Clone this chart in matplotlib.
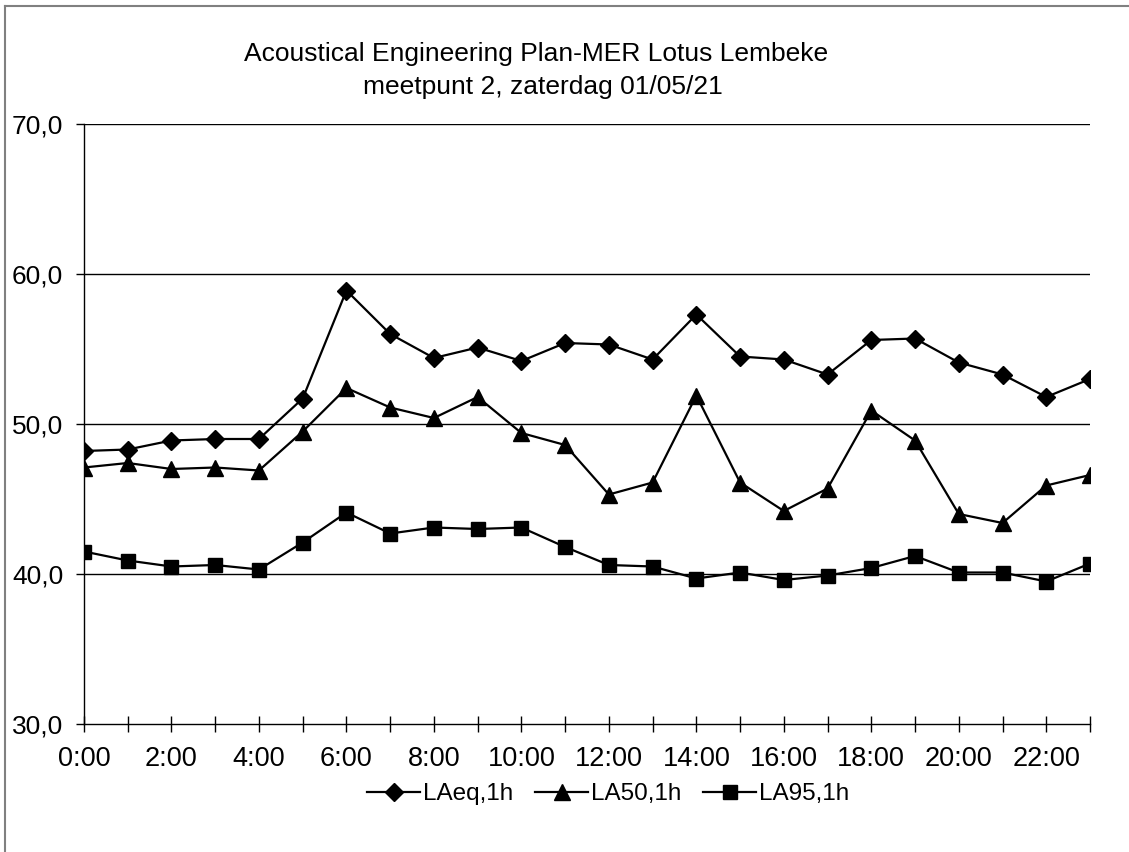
import numpy as np
import matplotlib.pyplot as plt
from matplotlib.lines import Line2D

plt.rcParams['font.family'] = ['Liberation Sans', 'DejaVu Sans']

# hours of the day
hours = list(range(24))
hour_labels = [f"{h}:00" if h % 2 == 0 else "" for h in hours]

# measured levels (dB(A))
laeq = [48.2, 48.3, 48.9, 49.0, 49.0, 51.7, 58.9, 56.0, 54.4, 55.1, 54.2, 55.4,
        55.3, 54.3, 57.3, 54.5, 54.3, 53.3, 55.6, 55.7, 54.1, 53.3, 51.8, 53.0]
la50 = [47.1, 47.4, 47.0, 47.1, 46.9, 49.5, 52.4, 51.1, 50.4, 51.8, 49.4, 48.6,
        45.3, 46.1, 51.9, 46.1, 44.2, 45.7, 50.9, 48.9, 44.0, 43.4, 45.9, 46.6]
la95 = [41.5, 40.9, 40.5, 40.6, 40.3, 42.1, 44.1, 42.7, 43.1, 43.0, 43.1, 41.8,
        40.6, 40.5, 39.7, 40.1, 39.6, 39.9, 40.4, 41.2, 40.1, 40.1, 39.5, 40.7]

W, H = 1129, 852
fig = plt.figure(figsize=(W / 100, H / 100), dpi=100)
ax = fig.add_axes([84 / W, 1 - 724 / H, (1090 - 84) / W, 600 / H])

lw = 1.6
ax.plot(hours, laeq, color='black', lw=lw, marker='D', ms=9, label='LAeq,1h', zorder=3)
ax.plot(hours, la50, color='black', lw=lw, marker='^', ms=11, label='LA50,1h', zorder=3)
ax.plot(hours, la95, color='black', lw=lw, marker='s', ms=10, label='LA95,1h', zorder=3)

ax.set_xlim(0, 23)
ax.set_ylim(30, 70)
ax.set_yticks([30, 40, 50, 60, 70])
ax.set_yticklabels(["30,0", "40,0", "50,0", "60,0", "70,0"], fontsize=19)
ax.set_xticks(hours)
ax.set_xticklabels(hour_labels, fontsize=19.5)
ax.tick_params(axis='x', direction='inout', length=12, width=1, pad=10)
ax.tick_params(axis='y', direction='out', length=6, width=1, pad=9)
for y in [40, 50, 60, 70]:
    ax.axhline(y, color='black', lw=1, zorder=1)
ax.spines['top'].set_visible(False)
ax.spines['right'].set_visible(False)
ax.spines['left'].set_linewidth(1)
ax.spines['bottom'].set_linewidth(1)

fig.text(536 / W, 1 - 54 / H, "Acoustical Engineering Plan-MER Lotus Lembeke",
         ha='center', va='center', fontsize=19)
fig.text(543 / W, 1 - 87 / H, "meetpunt 2, zaterdag 01/05/21",
         ha='center', va='center', fontsize=19)

fig.legend(loc='center', bbox_to_anchor=(608 / W, 1 - 794 / H), ncol=3,
           frameon=False, fontsize=17.5, handlelength=2.2, handletextpad=0.1,
           columnspacing=0.9)

# outer chart frame
fig.add_artist(Line2D([5 / W, 1], [1 - 6 / H, 1 - 6 / H], color='#808080', lw=1.5))
fig.add_artist(Line2D([5 / W, 5 / W], [0, 1 - 6 / H], color='#808080', lw=1.5))

fig.savefig("out.png", dpi=100)
